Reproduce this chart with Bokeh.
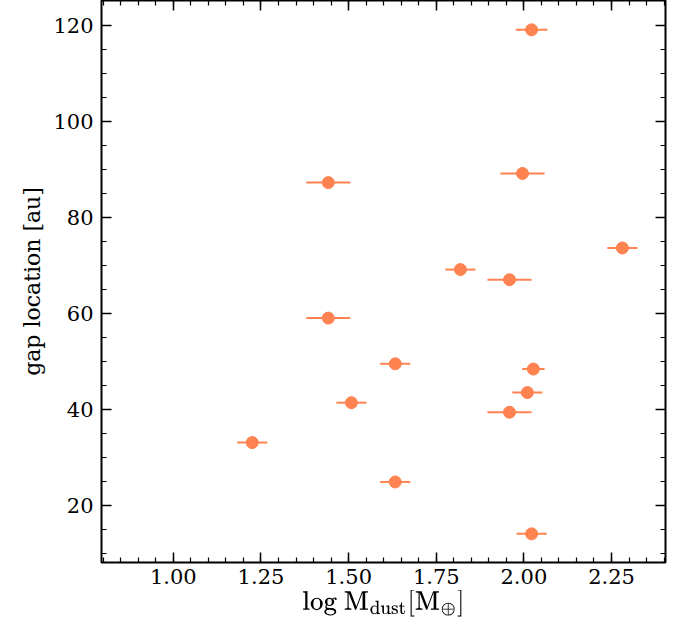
from bokeh.plotting import figure
from bokeh.models import LinearAxis, Range1d, Whisker, ColumnDataSource, FixedTicker, CustomJSTickFormatter
from bokeh.embed import file_html
from bokeh.resources import INLINE

logm = [2.022, 1.442, 1.996, 2.281, 1.819, 1.959, 1.442, 1.633, 2.027, 1.508, 2.010, 1.959, 1.225, 1.633, 2.022]
gap = [119.0, 87.2, 89.1, 73.6, 69.1, 67.0, 59.0, 49.5, 48.4, 41.4, 43.5, 39.4, 33.1, 24.9, 14.1]
err = [0.045, 0.063, 0.063, 0.043, 0.043, 0.063, 0.063, 0.043, 0.032, 0.043, 0.043, 0.063, 0.043, 0.043, 0.043]
xticks = [1.0, 1.25, 1.5, 1.75, 2.0, 2.25]
yticks = [20, 40, 60, 80, 100, 120]

C = "#FF8251"
src = ColumnDataSource(dict(x=logm, y=gap, lo=[a - e for a, e in zip(logm, err)], hi=[a + e for a, e in zip(logm, err)]))

p = figure(width=668, height=619, output_backend="svg", toolbar_location=None,
           x_range=Range1d(0.795, 2.404), y_range=Range1d(8.14, 125.1),
           min_border_left=101, min_border_right=3, min_border_top=0, min_border_bottom=48)
p.grid.visible = False
p.outline_line_color = "black"
p.outline_line_width = 2
p.add_layout(Whisker(source=src, base="y", lower="lo", upper="hi", dimension="width",
                     line_color=C, line_width=2, lower_head=None, upper_head=None))
p.scatter("x", "y", source=src, size=12, color=C)

p.add_layout(LinearAxis(), "above")
p.add_layout(LinearAxis(), "right")
for ax in p.axis:
    ax.major_tick_in = 10; ax.major_tick_out = 0
    ax.minor_tick_in = 5; ax.minor_tick_out = 0
    ax.major_tick_line_width = 1.5; ax.minor_tick_line_width = 1.2
    ax.axis_line_color = None
    ax.major_label_text_font = "DejaVu Serif"
    ax.major_label_text_font_size = "21px"
    ax.major_label_text_color = "black"
    ax.major_label_standoff = 8
    ax.axis_label_text_font = "DejaVu Serif"
    ax.axis_label_text_font_size = "22px"
    ax.axis_label_text_font_style = "normal"
    ax.axis_label_text_color = "black"
for ax in p.above + p.right:
    ax.formatter = CustomJSTickFormatter(code="return ''")
    ax.major_label_standoff = 0
p.below[0].major_label_standoff = 6
p.below[0].axis_label_standoff = 3
xt = FixedTicker(ticks=xticks, minor_ticks=[round(0.8 + 0.05 * i, 2) for i in range(33)])
yt = FixedTicker(ticks=yticks, minor_ticks=list(range(10, 126, 5)))
p.below[0].ticker = xt; p.above[0].ticker = xt
p.left[0].ticker = yt; p.right[0].ticker = yt
p.below[0].formatter = CustomJSTickFormatter(code="return tick.toFixed(2)")
p.below[0].axis_label = r"$$\mathrm{log\ M_{dust}[M_\oplus]}$$"
p.left[0].axis_label = "gap location [au]"

open("out.html", "w").write(file_html(p, INLINE))
